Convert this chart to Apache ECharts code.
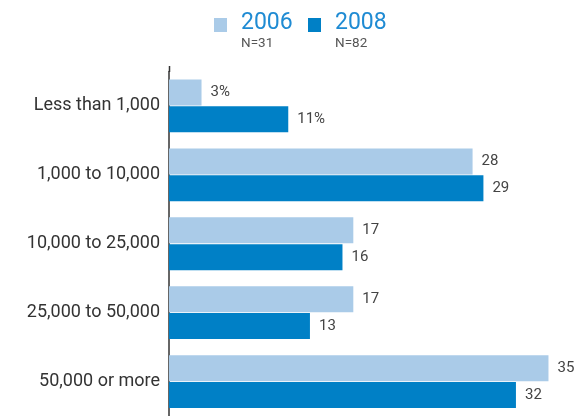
<!DOCTYPE html>
<html>
<head>
<meta charset="utf-8">
<script src="https://cdn.jsdelivr.net/npm/echarts@6/dist/echarts.min.js"></script>
<style>
  html, body { margin: 0; padding: 0; background: #fff; }
  #chart { width: 587px; height: 416px; }
</style>
</head>
<body>
<div id="chart"></div>
<script>
// Population size bands, top to bottom
const categories = ['Less than 1,000', '1,000 to 10,000', '10,000 to 25,000', '25,000 to 50,000', '50,000 or more'];
// Percent of respondents per year
const values2006 = [3, 28, 17, 17, 35];
const values2008 = [11, 29, 16, 13, 32];
const years = ['2006', '2008'];
const sampleSizes = ['N=31', 'N=82'];
const colors = ['#aacbe8', '#0080c6'];

const chart = echarts.init(document.getElementById('chart'));

const labelOpt = {
  show: true,
  position: 'right',
  distance: 9,
  color: '#444',
  fontSize: 15,
  fontFamily: 'Roboto, sans-serif',
  formatter: p => p.dataIndex === 0 ? p.value + '%' : String(p.value)
};

// Legend drawn as squares with a year heading and sample size underneath
const legendX = [214, 308];
const legendGraphics = [];
years.forEach((y, i) => {
  legendGraphics.push({
    type: 'rect', left: legendX[i], top: 18,
    shape: { width: 13, height: 14 },
    style: { fill: colors[i] }
  });
  legendGraphics.push({
    type: 'text', left: legendX[i] + 27, top: 12,
    style: { text: y, fill: '#1f8bd3', font: '23px Roboto, sans-serif' }
  });
  legendGraphics.push({
    type: 'text', left: legendX[i] + 27, top: 37,
    style: { text: sampleSizes[i], fill: '#555', font: '13.5px Roboto, sans-serif' }
  });
});
// short extension of the vertical axis above the first band
legendGraphics.push({
  type: 'line',
  shape: { x1: 169.5, y1: 66, x2: 169.5, y2: 72 },
  style: { stroke: '#333', lineWidth: 1.5 }
});

chart.setOption({
  animation: false,
  grid: { left: 169, top: 71.5, height: 344.5, width: 412, containLabel: false },
  xAxis: {
    type: 'value', min: 0, max: 38,
    show: false
  },
  yAxis: {
    type: 'category',
    data: categories,
    inverse: true,
    axisLine: { show: true, lineStyle: { color: '#333', width: 1.5 } },
    axisTick: { show: false },
    axisLabel: { color: '#333', fontSize: 18, fontFamily: 'Roboto, sans-serif', margin: 9 }
  },
  graphic: legendGraphics,
  series: [
    {
      name: years[0], type: 'bar', data: values2006,
      barWidth: 26, barGap: '3%',
      itemStyle: { color: colors[0] },
      label: labelOpt
    },
    {
      name: years[1], type: 'bar', data: values2008,
      barWidth: 26,
      itemStyle: { color: colors[1] },
      label: labelOpt
    }
  ]
});
</script>
</body>
</html>
